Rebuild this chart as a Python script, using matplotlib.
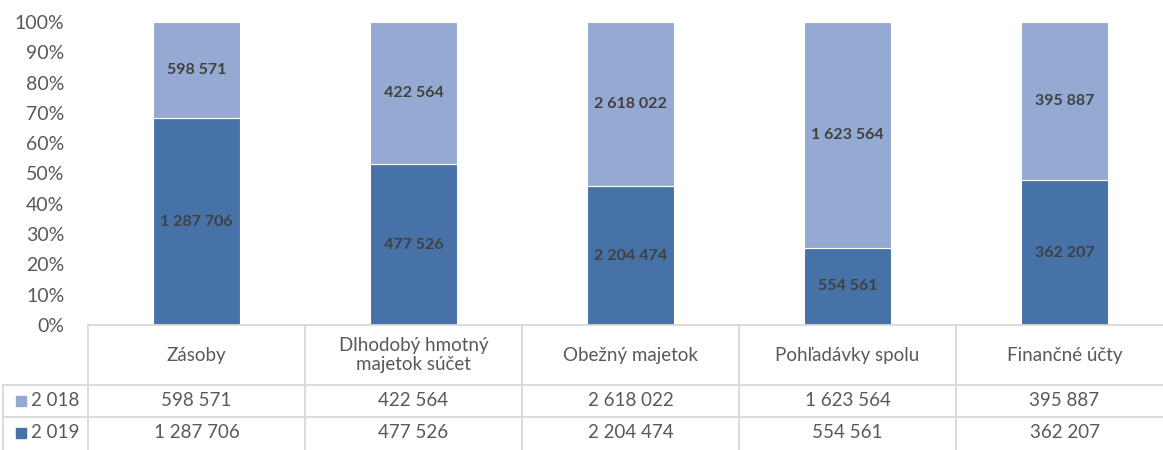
import matplotlib
matplotlib.use("Agg")
import matplotlib.pyplot as plt
import matplotlib.transforms as mtransforms
import numpy as np

categories = ["Zásoby", "Dlhodobý hmotný\nmajetok súčet", "Obežný majetok",
              "Pohľadávky spolu", "Finančné účty"]
series_names = ["2 018", "2 019"]
values_2018 = [598571, 422564, 2618022, 1623564, 395887]
values_2019 = [1287706, 477526, 2204474, 554561, 362207]
ytick_labels = ["0%", "10%", "20%", "30%", "40%", "50%", "60%", "70%", "80%", "90%", "100%"]

C_DARK = "#4672A7"
C_LIGHT = "#95AAD2"
C_TEXT = "#595959"
C_LABEL = "#404040"
C_GRID = "#D9D9D9"

plt.rcParams['font.family'] = ['Lato', 'DejaVu Sans']

W, H = 1163, 450
fig = plt.figure(figsize=(W / 100, H / 100), dpi=100)

def fx(px):
    return px / W

def fy(py):
    return 1 - py / H

left_px, right_px, top_px, bottom_px = 88, 1173, 22, 325
ax = fig.add_axes([fx(left_px), fy(bottom_px), fx(right_px - left_px), (bottom_px - top_px) / H])

def fmt(v):
    return f"{v:,}".replace(",", " ")

v18 = np.array(values_2018, dtype=float)
v19 = np.array(values_2019, dtype=float)
tot = v18 + v19
p19 = v19 / tot * 100
p18 = v18 / tot * 100
x = np.arange(len(categories)) + 0.5

ax.bar(x, p19, width=0.40, color=C_DARK, edgecolor="white", linewidth=0.8)
ax.bar(x, p18, bottom=p19, width=0.40, color=C_LIGHT, edgecolor="white", linewidth=0.8)

for xi, a, b, va, vb in zip(x, p19, p18, values_2019, values_2018):
    ax.text(xi, a / 2, fmt(va), ha="center", va="center", fontsize=11.5,
            fontweight="bold", color=C_LABEL)
    ax.text(xi, a + b / 2, fmt(vb), ha="center", va="center", fontsize=11.5,
            fontweight="bold", color=C_LABEL)

ax.set_xlim(0, len(categories))
ax.set_ylim(0, 100)
ax.set_yticks(np.arange(0, 101, 10))
ax.set_yticklabels(ytick_labels)
ax.tick_params(axis="y", length=0, pad=17, labelsize=14, labelcolor=C_TEXT)
ax.tick_params(axis="x", length=0, labelbottom=False)
for s in ax.spines.values():
    s.set_visible(False)

# Data table below the chart
tab = fig.add_axes([0, 0, 1, (H - bottom_px) / H])
tab.set_xlim(0, W)
tab.set_ylim(H, bottom_px)
tab.axis("off")
blend = mtransforms.blended_transform_factory(ax.transData, tab.transData)

row_lines = [325, 385, 417]
lw = 1.3
tab.plot([left_px, W + 20], [325, 325], color=C_GRID, lw=lw, clip_on=False)
for yy in row_lines[1:]:
    tab.plot([3, W + 20], [yy, yy], color=C_GRID, lw=lw, clip_on=False)
tab.plot([3, 3], [385, H], color=C_GRID, lw=lw)
for k in range(len(categories) + 1):
    tab.plot([k, k], [325, H], color=C_GRID, lw=lw, transform=blend, clip_on=False)

for xi, cat, a, b in zip(x, categories, values_2018, values_2019):
    tab.text(xi, 355, cat, ha="center", va="center", fontsize=13.5, color=C_TEXT,
             transform=blend, linespacing=1.15)
    tab.text(xi, 401, fmt(a), ha="center", va="center", fontsize=13.5, color=C_TEXT,
             transform=blend)
    tab.text(xi, 433, fmt(b), ha="center", va="center", fontsize=13.5, color=C_TEXT,
             transform=blend)

for yy, name, col in [(401, series_names[0], C_LIGHT), (433, series_names[1], C_DARK)]:
    tab.add_patch(plt.Rectangle((16, yy - 5), 10, 10, color=col))
    tab.text(31, yy, name, ha="left", va="center", fontsize=13.5, color=C_TEXT)

fig.savefig("out.png", dpi=100)
